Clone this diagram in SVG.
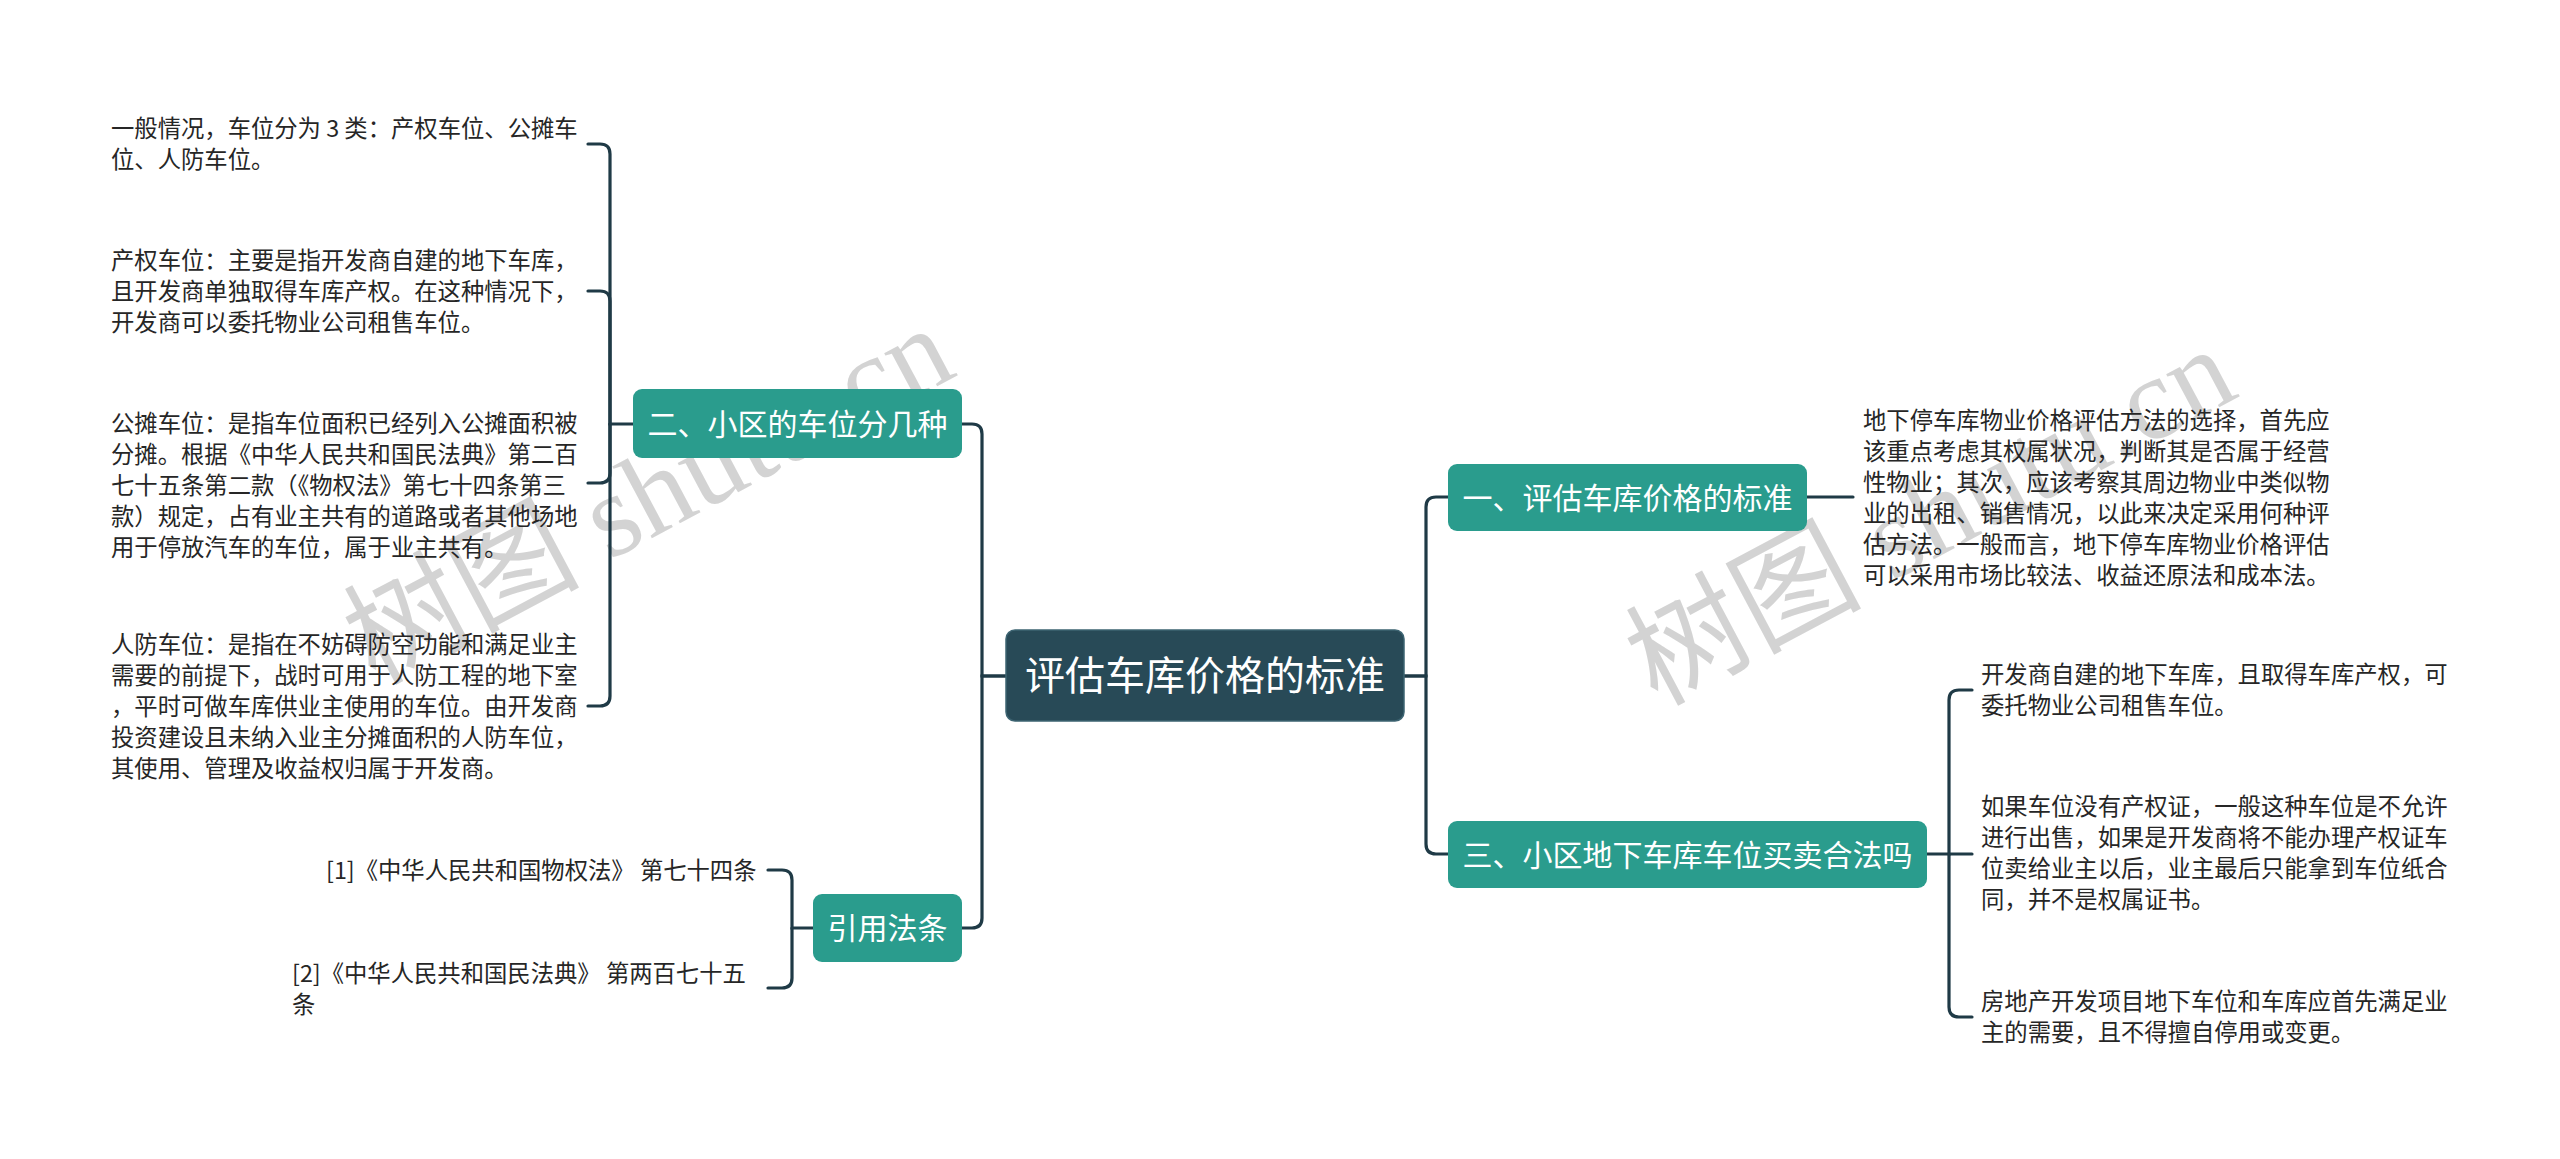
<svg xmlns="http://www.w3.org/2000/svg" width="2560" height="1159" viewBox="0 0 2560 1159">
<style>
.leaf{font-family:"Noto Sans CJK SC","Liberation Sans",sans-serif;font-size:23.33px;fill:#262626}
.l1{font-family:"Noto Sans CJK SC","Liberation Sans",sans-serif;font-size:30px;fill:#ffffff;text-anchor:middle}
.root{font-family:"Noto Sans CJK SC","Liberation Sans",sans-serif;font-size:40px;fill:#ffffff;text-anchor:middle}
.box1{fill:#2a9c8d}
.rootbox{fill:#284a57;stroke:#3d6472;stroke-width:1.5}
.conn{fill:none;stroke:#1f3a46;stroke-width:3.2;stroke-linecap:round}
.wm{font-family:"Liberation Serif","Noto Sans CJK SC",serif;font-size:118px;fill:#c4c4c4;fill-opacity:0.75;text-anchor:middle}
</style>
<rect width="2560" height="1159" fill="#ffffff"/>
<g id="watermarks">
<text class="wm" transform="translate(667,530) rotate(-28)">树图 shutu.cn</text>
<text class="wm" transform="translate(1949,551) rotate(-28)">树图 shutu.cn</text>
</g>
<g id="connectors">
<path class="conn" d="M1006 676 H982 V434 Q982 424 972 424 H962"/>
<path class="conn" d="M1006 676 H982 V918 Q982 928 972 928 H962"/>
<path class="conn" d="M1404 676 H1426 V507 Q1426 497 1436 497 H1448"/>
<path class="conn" d="M1404 676 H1426 V844 Q1426 854 1436 854 H1448"/>
<path class="conn" d="M633 424 H610 V154 Q610 144 600 144 H588"/>
<path class="conn" d="M610 424 V301 Q610 291 600 291 H588"/>
<path class="conn" d="M610 424 V473 Q610 483 600 483 H588"/>
<path class="conn" d="M610 424 V696 Q610 706 600 706 H588"/>
<path class="conn" d="M813 928 H792 V880 Q792 870 782 870 H768"/>
<path class="conn" d="M792 928 V978 Q792 988 782 988 H768"/>
<path class="conn" d="M1807 497 H1853"/>
<path class="conn" d="M1927 854 H1949 V700 Q1949 690 1959 690 H1972"/>
<path class="conn" d="M1949 854 H1972"/>
<path class="conn" d="M1949 854 V1007 Q1949 1017 1959 1017 H1972"/>
</g>
<g id="root">
<rect class="rootbox" x="1006" y="630" width="398" height="91" rx="9"/>
<text class="root" x="1205" y="690">评估车库价格的标准</text>
</g>
<g id="n2">
<rect class="box1" x="633" y="389" width="329" height="69" rx="9"/>
<text class="l1" x="797.5" y="435">二、小区的车位分几种</text>
</g>
<g id="nref">
<rect class="box1" x="813" y="894" width="149" height="68" rx="9"/>
<text class="l1" x="887.5" y="939">引用法条</text>
</g>
<g id="n1">
<rect class="box1" x="1448" y="464" width="359" height="67" rx="9"/>
<text class="l1" x="1627.5" y="508.5">一、评估车库价格的标准</text>
</g>
<g id="n3">
<rect class="box1" x="1448" y="821" width="479" height="67" rx="9"/>
<text class="l1" x="1687.5" y="865.5">三、小区地下车库车位买卖合法吗</text>
</g>
<g id="leafL1">
<text class="leaf"><tspan x="111" y="136.6">一般情况，车位分为 3 类：产权车位、公摊车</tspan><tspan x="111" y="167.6">位、人防车位。</tspan></text>
</g>
<g id="leafL2">
<text class="leaf"><tspan x="111" y="268.6">产权车位：主要是指开发商自建的地下车库，</tspan><tspan x="111" y="299.6">且开发商单独取得车库产权。在这种情况下，</tspan><tspan x="111" y="330.6">开发商可以委托物业公司租售车位。</tspan></text>
</g>
<g id="leafL3">
<text class="leaf"><tspan x="111" y="431.6">公摊车位：是指车位面积已经列入公摊面积被</tspan><tspan x="111" y="462.6">分摊。根据《中华人民共和国民法典》第二百</tspan><tspan x="111" y="493.6">七十五条第二款（《物权法》第七十四条第三</tspan><tspan x="111" y="524.6">款）规定，占有业主共有的道路或者其他场地</tspan><tspan x="111" y="555.6">用于停放汽车的车位，属于业主共有。</tspan></text>
</g>
<g id="leafL4">
<text class="leaf"><tspan x="111" y="652.6">人防车位：是指在不妨碍防空功能和满足业主</tspan><tspan x="111" y="683.6">需要的前提下，战时可用于人防工程的地下室</tspan><tspan x="111" y="714.6">，平时可做车库供业主使用的车位。由开发商</tspan><tspan x="111" y="745.6">投资建设且未纳入业主分摊面积的人防车位，</tspan><tspan x="111" y="776.6">其使用、管理及收益权归属于开发商。</tspan></text>
</g>
<g id="leafRef1">
<text class="leaf"><tspan x="326" y="878.6">[1]《中华人民共和国物权法》 第七十四条</tspan></text>
</g>
<g id="leafRef2">
<text class="leaf"><tspan x="292" y="981.6">[2]《中华人民共和国民法典》 第两百七十五</tspan><tspan x="292" y="1012.6">条</tspan></text>
</g>
<g id="leafR0">
<text class="leaf"><tspan x="1863" y="429.1">地下停车库物业价格评估方法的选择，首先应</tspan><tspan x="1863" y="460.1">该重点考虑其权属状况，判断其是否属于经营</tspan><tspan x="1863" y="491.1">性物业；其次，应该考察其周边物业中类似物</tspan><tspan x="1863" y="522.1">业的出租、销售情况，以此来决定采用何种评</tspan><tspan x="1863" y="553.1">估方法。一般而言，地下停车库物业价格评估</tspan><tspan x="1863" y="584.1">可以采用市场比较法、收益还原法和成本法。</tspan></text>
</g>
<g id="leafR1">
<text class="leaf"><tspan x="1981" y="683.1">开发商自建的地下车库，且取得车库产权，可</tspan><tspan x="1981" y="714.1">委托物业公司租售车位。</tspan></text>
</g>
<g id="leafR2">
<text class="leaf"><tspan x="1981" y="815.1">如果车位没有产权证，一般这种车位是不允许</tspan><tspan x="1981" y="846.1">进行出售，如果是开发商将不能办理产权证车</tspan><tspan x="1981" y="877.1">位卖给业主以后，业主最后只能拿到车位纸合</tspan><tspan x="1981" y="908.1">同，并不是权属证书。</tspan></text>
</g>
<g id="leafR3">
<text class="leaf"><tspan x="1981" y="1010.1">房地产开发项目地下车位和车库应首先满足业</tspan><tspan x="1981" y="1041.1">主的需要，且不得擅自停用或变更。</tspan></text>
</g>
</svg>
